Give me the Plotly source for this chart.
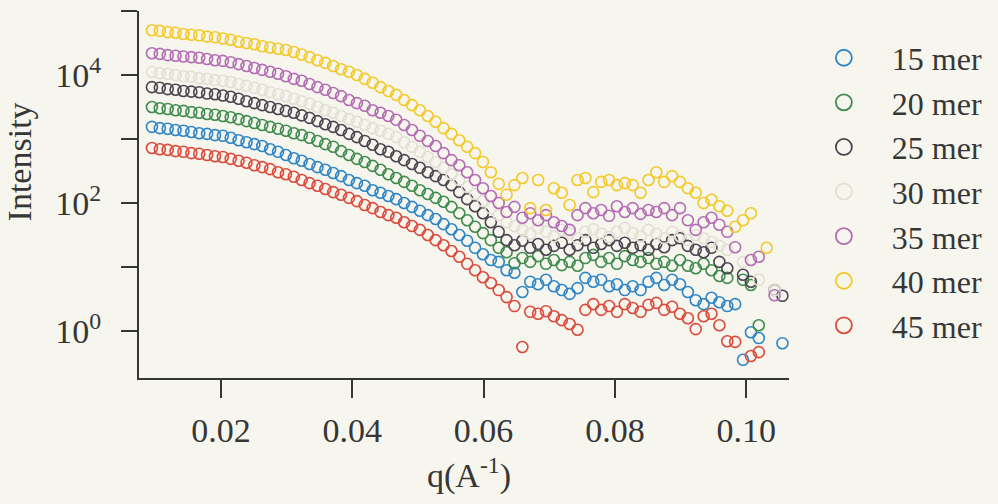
import plotly.graph_objects as go

# q values (A^-1)
q = [0.0095, 0.0107, 0.0119, 0.0131, 0.0143, 0.0155, 0.0167, 0.0179, 0.0191, 0.0203,
     0.0215, 0.0227, 0.0239, 0.0251, 0.0263, 0.0275, 0.0287, 0.0299, 0.0311, 0.0323,
     0.0335, 0.0347, 0.0359, 0.0371, 0.0383, 0.0395, 0.0407, 0.0419, 0.0431, 0.0443,
     0.0455, 0.0467, 0.0479, 0.0491, 0.0503, 0.0515, 0.0527, 0.0539, 0.0551, 0.0563,
     0.0575, 0.0587, 0.0599, 0.0611, 0.0623, 0.0635, 0.0647, 0.0659, 0.0671, 0.0683,
     0.0695, 0.0707, 0.0719, 0.0731, 0.0743, 0.0755, 0.0767, 0.0779, 0.0791, 0.0803,
     0.0815, 0.0827, 0.0839, 0.0851, 0.0863, 0.0875, 0.0887, 0.0899, 0.0911, 0.0923,
     0.0935, 0.0947, 0.0959, 0.0971, 0.0983, 0.0995, 0.1007, 0.1019, 0.1031, 0.1043, 0.1055]

# log10(Intensity)
log_I_15 = [3.19, 3.17, 3.16, 3.14, 3.13, 3.11, 3.09, 3.08, 3.06, 3.05,
            3.02, 2.98, 2.95, 2.92, 2.89, 2.84, 2.80, 2.75, 2.70, 2.66,
            2.61, 2.56, 2.52, 2.47, 2.42, 2.36, 2.31, 2.27, 2.20, 2.16,
            2.11, 2.06, 2.00, 1.94, 1.88, 1.81, 1.75, 1.67, 1.59, 1.50,
            1.41, 1.30, 1.20, 1.11, 1.08, 0.95, 0.91, 0.61, 0.77, 0.73,
            0.80, 0.70, 0.64, 0.58, 0.67, 0.83, 0.77, 0.80, 0.70, 0.73,
            0.64, 0.70, 0.64, 0.77, 0.83, 0.72, 0.80, 0.73, 0.61, 0.48,
            0.42, 0.52, 0.45, 0.39, 0.42, -0.45, -0.02, -0.11, None, None, -0.19]

log_I_20 = [3.50, 3.48, 3.47, 3.45, 3.44, 3.42, 3.41, 3.39, 3.38, 3.36,
            3.34, 3.31, 3.28, 3.25, 3.22, 3.19, 3.16, 3.13, 3.09, 3.06,
            3.02, 2.97, 2.92, 2.88, 2.81, 2.75, 2.69, 2.64, 2.58, 2.52,
            2.45, 2.39, 2.33, 2.27, 2.20, 2.14, 2.08, 2.02, 1.94, 1.84,
            1.73, 1.63, 1.53, 1.42, 1.30, 1.23, 1.06, 1.14, 1.08, 1.17,
            1.05, 1.11, 1.03, 1.08, 1.02, 1.14, 1.19, 1.08, 1.14, 1.05,
            1.17, 1.11, 1.08, 1.14, 1.05, 1.08, 1.02, 1.11, 1.02, 0.98,
            1.05, 0.95, 0.86, 0.83, None, 0.80, 0.72, 0.09, None, None, None]

log_I_25 = [3.81, 3.80, 3.78, 3.77, 3.75, 3.74, 3.73, 3.71, 3.70, 3.68,
            3.66, 3.63, 3.59, 3.56, 3.53, 3.50, 3.47, 3.44, 3.41, 3.37,
            3.33, 3.28, 3.23, 3.19, 3.14, 3.08, 3.03, 2.97, 2.91, 2.84,
            2.80, 2.73, 2.67, 2.61, 2.55, 2.48, 2.42, 2.36, 2.28, 2.17,
            2.06, 1.95, 1.84, 1.70, 1.55, 1.42, 1.34, 1.41, 1.30, 1.36,
            1.27, 1.33, 1.38, 1.27, 1.34, 1.42, 1.30, 1.36, 1.42, 1.33,
            1.38, 1.30, 1.34, 1.27, 1.36, 1.31, 1.42, 1.45, 1.33, 1.27,
            1.23, 1.30, 1.08, 0.98, None, 0.88, 0.77, None, None, 0.64, 0.55]

log_I_30 = [4.05, 4.03, 4.02, 4.00, 3.98, 3.97, 3.95, 3.94, 3.92, 3.91,
            3.89, 3.86, 3.83, 3.80, 3.77, 3.73, 3.70, 3.67, 3.63, 3.59,
            3.55, 3.50, 3.45, 3.41, 3.36, 3.31, 3.27, 3.22, 3.17, 3.13,
            3.08, 3.03, 2.95, 2.88, 2.80, 2.72, 2.64, 2.55, 2.45, 2.36,
            2.25, 2.14, 2.03, 1.92, 1.81, 1.70, 1.64, 1.58, 1.52, 1.61,
            1.55, 1.48, 1.58, 1.53, 1.45, 1.55, 1.59, 1.52, 1.47, 1.55,
            1.61, 1.53, 1.48, 1.58, 1.52, 1.45, 1.55, 1.48, 1.42, 1.50,
            1.45, 1.39, 1.33, 1.27, None, 1.08, None, 0.80, None, 0.64, None]

log_I_35 = [4.34, 4.33, 4.31, 4.30, 4.29, 4.28, 4.27, 4.25, 4.23, 4.22,
            4.20, 4.17, 4.14, 4.11, 4.08, 4.05, 4.02, 3.98, 3.94, 3.91,
            3.86, 3.81, 3.77, 3.72, 3.67, 3.61, 3.56, 3.52, 3.45, 3.41,
            3.36, 3.30, 3.22, 3.14, 3.05, 2.97, 2.89, 2.78, 2.67, 2.59,
            2.48, 2.36, 2.23, 2.11, 2.00, 1.86, 1.94, 1.77, 1.84, 1.73,
            1.81, 1.70, 1.64, 1.58, 1.81, 1.92, 1.84, 1.89, 1.80, 1.95,
            1.86, 1.92, 1.83, 1.89, 1.86, 1.92, 1.81, 1.92, 1.73, 1.58,
            1.70, 1.77, 1.66, 1.55, 1.31, None, 1.11, 1.16, None, 0.56, None]

log_I_40 = [4.70, 4.69, 4.67, 4.66, 4.64, 4.63, 4.62, 4.60, 4.59, 4.57,
            4.55, 4.52, 4.50, 4.48, 4.45, 4.43, 4.41, 4.39, 4.36, 4.32,
            4.28, 4.23, 4.19, 4.14, 4.09, 4.05, 4.00, 3.94, 3.88, 3.81,
            3.75, 3.69, 3.61, 3.53, 3.45, 3.36, 3.27, 3.17, 3.08, 2.98,
            2.88, 2.78, 2.64, 2.48, 2.30, 2.13, 2.28, 2.39, 1.92, 2.36,
            1.89, 2.23, 2.16, 1.97, 2.36, 2.39, 2.17, 2.33, 2.36, 2.28,
            2.31, 2.28, 2.16, 2.36, 2.48, 2.33, 2.42, 2.33, 2.23, 2.16,
            2.00, 2.05, 1.95, 1.88, 1.63, 1.73, 1.84, None, 1.30, None, None]

log_I_45 = [2.86, 2.84, 2.83, 2.81, 2.80, 2.78, 2.77, 2.75, 2.73, 2.72,
            2.69, 2.66, 2.63, 2.59, 2.56, 2.53, 2.48, 2.45, 2.41, 2.36,
            2.31, 2.27, 2.22, 2.17, 2.13, 2.08, 2.03, 1.97, 1.92, 1.86,
            1.81, 1.77, 1.70, 1.64, 1.58, 1.50, 1.42, 1.34, 1.25, 1.16,
            1.05, 0.95, 0.84, 0.75, 0.64, 0.53, 0.39, -0.25, 0.30, 0.27,
            0.31, 0.23, 0.17, 0.11, 0.02, 0.33, 0.42, 0.33, 0.39, 0.30,
            0.42, 0.36, 0.30, 0.41, 0.44, 0.33, 0.38, 0.27, 0.20, 0.03,
            0.23, 0.27, 0.09, -0.16, -0.17, None, -0.39, -0.33, None, None, None]

series_names = ["15 mer", "20 mer", "25 mer", "30 mer", "35 mer", "40 mer", "45 mer"]
series_logs = [log_I_15, log_I_20, log_I_25, log_I_30, log_I_35, log_I_40, log_I_45]
series_colors = ["#2f86c6", "#3f8c4e", "#4a4550", "#e2e0d4", "#b46db4", "#f2c928", "#dc4a3c"]

x_tickvals = [0.02, 0.04, 0.06, 0.08, 0.10]
x_ticktext = ["0.02", "0.04", "0.06", "0.08", "0.10"]
y_tickvals = [1, 10, 100, 1000, 10000, 100000]
y_ticktext = ["10<sup>0</sup>", "", "10<sup>2</sup>", "", "10<sup>4</sup>", ""]

BG = "#f7f6ee"
AX = "#363636"
TXT = "#363636"
FONT = "Liberation Serif"

fig = go.Figure()
for name, logs, col in zip(series_names, series_logs, series_colors):
    yvals = [None if v is None else 10 ** v for v in logs]
    fig.add_trace(go.Scatter(
        x=q, y=yvals, mode="markers", name=name, showlegend=False,
        marker=dict(symbol="circle-open", size=11, color=col, line=dict(width=1.6)),
    ))
# legend entries (larger symbols, as in the reference legend)
for name, col in zip(series_names, series_colors):
    fig.add_trace(go.Scatter(
        x=[None], y=[None], mode="markers", name=name, showlegend=True,
        marker=dict(symbol="circle-open", size=16, color=col, line=dict(width=1.8)),
    ))

fig.update_layout(
    width=998, height=504,
    margin=dict(l=139, r=208, t=11, b=126),
    paper_bgcolor=BG, plot_bgcolor=BG,
    font=dict(family=FONT, size=34, color=TXT),
    showlegend=True,
    legend=dict(x=1.009, y=0.947, xanchor="left", yanchor="top",
                bgcolor="rgba(0,0,0,0)", font=dict(size=32, family=FONT, color=TXT),
                itemwidth=86, tracegroupgap=0, itemsizing="trace"),
    xaxis=dict(range=[0.00753, 0.1065], showgrid=False, zeroline=False,
               showline=True, linecolor=AX, linewidth=2,
               ticks="outside", ticklen=18, tickwidth=2, tickcolor=AX,
               tickmode="array", tickvals=x_tickvals, ticktext=x_ticktext,
               ticklabelstandoff=3),
    yaxis=dict(type="log", range=[-0.734, 5.0], showgrid=False, zeroline=False,
               showline=True, linecolor=AX, linewidth=2,
               ticks="outside", ticklen=16, tickwidth=2, tickcolor=AX,
               tickmode="array", tickvals=y_tickvals, ticktext=y_ticktext,
               ticklabelstandoff=13),
    annotations=[
        dict(text="Intensity", xref="paper", yref="paper",
             x=-0.184, y=(378 - 162) / 367, xanchor="center", yanchor="middle",
             textangle=-90, showarrow=False, font=dict(size=34, family=FONT, color=TXT)),
        dict(text="q(A<sup>-1</sup>)", xref="paper", yref="paper",
             x=(470 - 139) / 651, y=(378 - 474) / 367, xanchor="center", yanchor="middle",
             showarrow=False, font=dict(size=34, family=FONT, color=TXT)),
    ],
)

fig.write_html("out.html")
